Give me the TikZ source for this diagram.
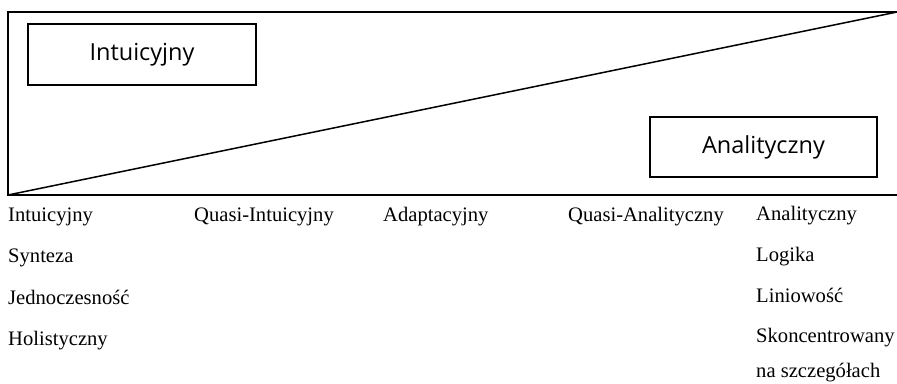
\documentclass[tikz,border=0pt]{standalone}
\usepackage{fontspec}
\setmainfont{Liberation Serif}
\newfontfamily\boxfont{Open Sans}
\begin{document}
\begin{tikzpicture}[x=1pt,y=-1pt,
  frame/.style={line width=1.5pt},
  labelbox/.style={draw,line width=1.5pt,inner sep=0pt,font=\boxfont\fontsize{23.5}{28}\selectfont},
  lbl/.style={anchor=base west,inner sep=0pt,font=\fontsize{20.6}{24}\selectfont}]
\useasboundingbox (0,0) rectangle (897,383);
\coordinate (tl) at (8,12);
\coordinate (bl) at (8,195);
\coordinate (tr) at (899,12);
\coordinate (br) at (899,195);
\coordinate (diagend) at (899,11.6);
\draw[frame,line join=miter] (tr) -- (tl) -- (bl) -- (br);
\draw[frame,line cap=round] (bl) -- (diagend);
\node[labelbox,minimum width=228pt,minimum height=61pt] (intu) at (142,54.5) {Intuicyjny};
\node[labelbox,minimum width=227pt,minimum height=60pt] (anal) at (763.5,147) {Analityczny};
% left column
\node[lbl] (l1) at (8,221) {Intuicyjny};
\node[lbl] (l2) at (8,262.5) {Synteza};
\node[lbl] (l3) at (8,304) {Jednoczesność};
\node[lbl] (l4) at (8,345.5) {Holistyczny};
% middle
\node[lbl] (m1) at (194,221) {Quasi-Intuicyjny};
\node[lbl] (m2) at (383,221) {Adaptacyjny};
\node[lbl] (m3) at (568,221) {Quasi-Analityczny};
% right column
\node[lbl] (r1) at (756,220) {Analityczny};
\node[lbl] (r2) at (756,261) {Logika};
\node[lbl] (r3) at (756,302) {Liniowość};
\node[lbl] (r4) at (756,342) {Skoncentrowany};
\node[lbl] (r5) at (756,377.5) {na szczegółach};
\end{tikzpicture}
\end{document}
